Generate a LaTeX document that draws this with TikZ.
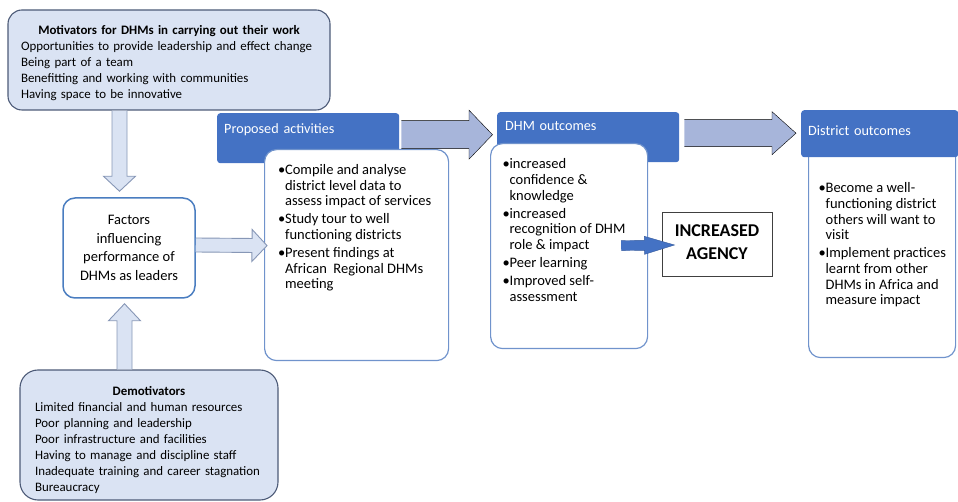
\documentclass[tikz,border=0pt]{standalone}
\usepackage{fontspec}
\setmainfont{Carlito}
\usetikzlibrary{calc}

\definecolor{motfill}{HTML}{DAE3F3}
\definecolor{motline}{HTML}{4D5B78}
\definecolor{facline}{HTML}{4A7DC0}
\definecolor{arrline}{HTML}{8797B6}
\definecolor{hdrblue}{HTML}{4472C4}
\definecolor{bodyline}{HTML}{7093CC}
\definecolor{bigarr}{HTML}{A7B5DA}
\definecolor{agline}{HTML}{404040}

\newlength\bulw
\setlength\bulw{5.5pt}
\newcommand\itm{\par\hangindent=\bulw\hangafter=1\noindent\rule{0pt}{11pt}\makebox[\bulw][l]{\hspace{-1.6pt}\textbullet}}
\newcommand\bodytext[4]{\parbox[t][#2][t]{#1}{\setlength\parskip{2.5pt}\vspace*{#3}#4}}

\tikzset{
    fat sw/.store in=\fatsw, fat hw/.store in=\fathw, fat hl/.store in=\fathl,
    fatarrow/.style={to path={let \p1=(\tikztostart), \p2=(\tikztotarget),
        \p3=($(\p2)!\fathl!(\p1)$) in
        ($(\p1)!\fatsw!90:(\p2)$) -- ($(\p3)!\fatsw!90:(\p2)$) -- ($(\p3)!\fathw!90:(\p2)$)
        -- (\p2) -- ($(\p3)!\fathw!-90:(\p2)$) -- ($(\p3)!\fatsw!-90:(\p2)$)
        -- ($(\p1)!\fatsw!-90:(\p2)$)}},
    thinarrow/.style={fatarrow, draw=arrline, fill=motfill, line width=0.9pt, fat sw=7.5pt, fat hw=16pt, fat hl=15pt},
    bigarrow/.style={fatarrow, fill=bigarr, fat sw=14pt, fat hw=24.5pt, fat hl=23.5pt},
    bluearrow/.style={fatarrow, fill=hdrblue, draw=hdrblue!80!black, line width=0.4pt, fat sw=5pt, fat hw=9pt, fat hl=30pt},
    motbox/.style={draw=motline, fill=motfill, line width=1.1pt, rounded corners=14pt, inner xsep=13pt, text width=296pt, minimum height=100pt, font=\fontsize{12.9}{16}\selectfont},
    facbox/.style={draw=facline, fill=white, line width=1.5pt, rounded corners=12pt, align=center, minimum width=132pt, minimum height=100pt, font=\fontsize{14.5}{18.5}\selectfont},
    hdr/.style={fill=hdrblue, text=white, rounded corners=3pt, anchor=north west, inner xsep=7pt, inner ysep=0pt, font=\fontsize{14.2}{17}\selectfont},
    bodybox/.style={draw=bodyline, fill=white, line width=1.2pt, rounded corners=12pt, anchor=north west, inner ysep=0pt, font=\fontsize{14.5}{15.6}\selectfont},
    agbox/.style={draw=agline, fill=white, line width=1pt, minimum width=110pt, minimum height=64pt, align=center, font=\bfseries\fontsize{18}{23}\selectfont}
}

\begin{document}
\begin{tikzpicture}[x=1pt, y=-1pt]
    \useasboundingbox (0,0) rectangle (958,502);

    \node [motbox] (mot) at (169,60) {{\centering\rule{0pt}{15.5pt}\bfseries Motivators for DHMs in carrying out their work\par}Opportunities to provide leadership and effect change\\Being part of a team\\Benefitting and working with communities\\Having space to be innovative};
    \node [motbox, rounded corners=18pt, text width=228pt, inner xsep=15pt, minimum height=130pt] (demot) at (149,435) {{\centering\rule{0pt}{18.5pt}\bfseries Demotivators\par}Limited financial and human resources\\Poor planning and leadership\\Poor infrastructure and facilities\\Having to manage and discipline staff\\Inadequate training and career stagnation\\Bureaucracy};
    \node [facbox] (fac) at (129,248) {Factors\\influencing\\performance of\\DHMs as leaders};

    \node [hdr, text width=168pt, text height=20.5pt, text depth=29.5pt] (prophdr) at (217,113) {Proposed activities};
    \node [bodybox, inner xsep=15pt] (propbody) at (264,149) {\bodytext{154pt}{211pt}{11.4pt}{%
        \itm Compile and analyse\\district level data to\\assess impact of services
        \itm Study tour to well\\functioning districts
        \itm Present findings at\\African~ Regional DHMs\\meeting}};

    \node [hdr, inner xsep=8pt, text width=166pt, text height=18.4pt, text depth=31.6pt] (dhmhdr) at (497,112) {DHM outcomes};
    \node [bodybox, inner xsep=13.5pt] (dhmbody) at (490,143) {\bodytext{130pt}{205pt}{11.9pt}{%
        \itm increased\\confidence \&\\knowledge
        \itm increased\\recognition of DHM\\role \& impact
        \itm Peer learning
        \itm Improved self-\\assessment}};

    \node [agbox] (agency) at (717,245) {INCREASED\\AGENCY\rule[-5pt]{0pt}{5pt}};

    \node [bodybox, inner xsep=11.5pt] (distbody) at (808,140) {\bodytext{124pt}{217pt}{38.9pt}{%
        \itm Become a well-\\functioning district\\others will want to\\visit
        \itm \mbox{Implement practices}\\learnt from other\\DHMs in Africa and\\measure impact}};
    \node [hdr, text width=143pt, text height=25.4pt, text depth=21.6pt] (disthdr) at (801,110) {District outcomes};

    \draw [thinarrow] ([xshift=-49.5pt]mot.south) to ([xshift=-9.5pt,yshift=6pt]fac.north);
    \draw [thinarrow, fat hl=17pt] ([xshift=-24.5pt]demot.north) to ([xshift=-4.5pt,yshift=-5pt]fac.south);
    \draw [thinarrow, fat sw=7pt] ([yshift=3pt]fac.east) to ([xshift=3pt,yshift=9.5pt]propbody.west);
    \draw [bigarrow] ([xshift=2pt,yshift=3.5pt]prophdr.east) to ([xshift=-4.5pt,yshift=2.5pt]dhmhdr.west);
    \draw [bigarrow, fat sw=13.5pt, fat hw=21.5pt, fat hl=24pt] ([xshift=5pt,yshift=4pt]dhmhdr.east) to ([xshift=-5pt,yshift=0.5pt]disthdr.west);
    \draw [bluearrow] ([xshift=-27pt,yshift=0.5pt]dhmbody.east) to ([xshift=13pt]agency.west);
\end{tikzpicture}
\end{document}
